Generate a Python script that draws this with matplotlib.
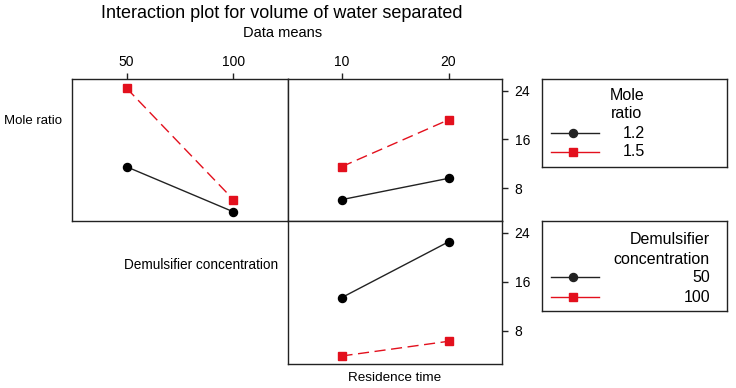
import matplotlib
matplotlib.use("Agg")
import matplotlib.pyplot as plt
from matplotlib.lines import Line2D

plt.rcParams["font.family"] = ["Liberation Sans", "DejaVu Sans"]

# factor levels
demulsifier_levels = [50, 100]
residence_levels = [10, 20]
mole_labels = ["1.2", "1.5"]
demul_labels = ["50", "100"]
y_ticks = [8, 16, 24]

# data means: volume of water separated
# mole ratio vs demulsifier concentration
mr_by_demul_12 = [11.5, 4.1]
mr_by_demul_15 = [24.4, 6.1]
# mole ratio vs residence time
mr_by_res_12 = [6.1, 9.6]
mr_by_res_15 = [11.5, 19.2]
# demulsifier concentration vs residence time
dc_by_res_50 = [13.4, 22.5]
dc_by_res_100 = [3.9, 6.3]

BLACK = "#222222"
RED = "#e3101d"
W, H = 736, 388


def box(x0, y0, x1, y1):
    # pixel box (top-left origin) -> figure fraction rect
    return [x0 / W, 1 - y1 / H, (x1 - x0) / W, (y1 - y0) / H]


def draw_pair(ax, x, y_black, y_red):
    ax.plot(x, y_black, color=BLACK, lw=1.0, marker="o", ms=5.8,
            mfc="black", mec="black")
    ax.plot(x, y_red, color=RED, lw=1.0, ls=(0, (8, 4)), marker="s", ms=5.5,
            mfc=RED, mec=RED)


fig = plt.figure(figsize=(7.36, 3.88), dpi=100)

ax_tl = fig.add_axes(box(72, 79, 288, 221))
ax_tr = fig.add_axes(box(288, 79, 502, 221))
ax_br = fig.add_axes(box(288, 221, 502, 364))

draw_pair(ax_tl, demulsifier_levels, mr_by_demul_12, mr_by_demul_15)
draw_pair(ax_tr, residence_levels, mr_by_res_12, mr_by_res_15)
draw_pair(ax_br, residence_levels, dc_by_res_50, dc_by_res_100)

ylim = (2.6, 25.9)
for ax in (ax_tl, ax_tr, ax_br):
    ax.set_ylim(*ylim)
    for s in ax.spines.values():
        s.set_linewidth(1.0)
        s.set_color("#222222")
    ax.tick_params(length=4, width=1.0, labelsize=10, color="#222222")

ax_tl.set_xlim(24.5, 125.5)
ax_tr.set_xlim(5, 25)
ax_br.set_xlim(5, 25)

# top axis ticks
ax_tl.xaxis.tick_top()
ax_tl.set_xticks(demulsifier_levels)
ax_tl.set_yticks([])
ax_tr.xaxis.tick_top()
ax_tr.set_xticks(residence_levels)
ax_br.set_xticks([])

# right axis ticks
for ax in (ax_tr, ax_br):
    ax.yaxis.tick_right()
    ax.set_yticks(y_ticks)
    ax.tick_params(axis="y", pad=5)
ax_tl.tick_params(axis="x", pad=3)
ax_tr.tick_params(axis="x", pad=3)

ax_br.set_xlabel("Residence time", fontsize=9.7, labelpad=6)

fig.text(282 / W, 1 - 14 / H, "Interaction plot for volume of water separated",
         ha="center", va="center", fontsize=13)
fig.text(283 / W, 1 - 33 / H, "Data means", ha="center", va="center",
         fontsize=10.5)
fig.text(4 / W, 1 - 121 / H, "Mole ratio", ha="left", va="center",
         fontsize=9.5)
fig.text(278 / W, 1 - 265 / H, "Demulsifier concentration", ha="right",
         va="center", fontsize=9.8)


def legend_box(rect, title_lines, title_x, title_ha, labels, label_x, ys_title,
               ys_entries):
    lax = fig.add_axes(rect)
    lax.set_xlim(0, rect[2] * W)
    lax.set_ylim(rect[3] * H, 0)
    lax.set_xticks([])
    lax.set_yticks([])
    for s in lax.spines.values():
        s.set_linewidth(1.0)
        s.set_color("#222222")
    for t, y in zip(title_lines, ys_title):
        lax.text(title_x, y, t, ha=title_ha, va="center", fontsize=11.5)
    styles = [(BLACK, "o", 5.8), (RED, "s", 5.5)]
    for (c, m, ms), lab, y in zip(styles, labels, ys_entries):
        lax.add_line(Line2D([9, 57], [y, y], color=c, lw=1.0))
        lax.add_line(Line2D([31], [y], color=c, marker=m, ms=ms, mfc=c, mec=c))
        lax.text(label_x, y, lab, ha="right", va="center", fontsize=11.5)
    return lax


legend_box(box(542, 79, 727, 167), ["Mole", "ratio"], 85, "center",
           mole_labels, 103, [17, 35], [54, 73])
legend_box(box(542, 221, 727, 311), ["Demulsifier", "concentration"], 168,
           "right", demul_labels, 168, [19, 38], [56, 76])

fig.savefig("out.png", dpi=100)
